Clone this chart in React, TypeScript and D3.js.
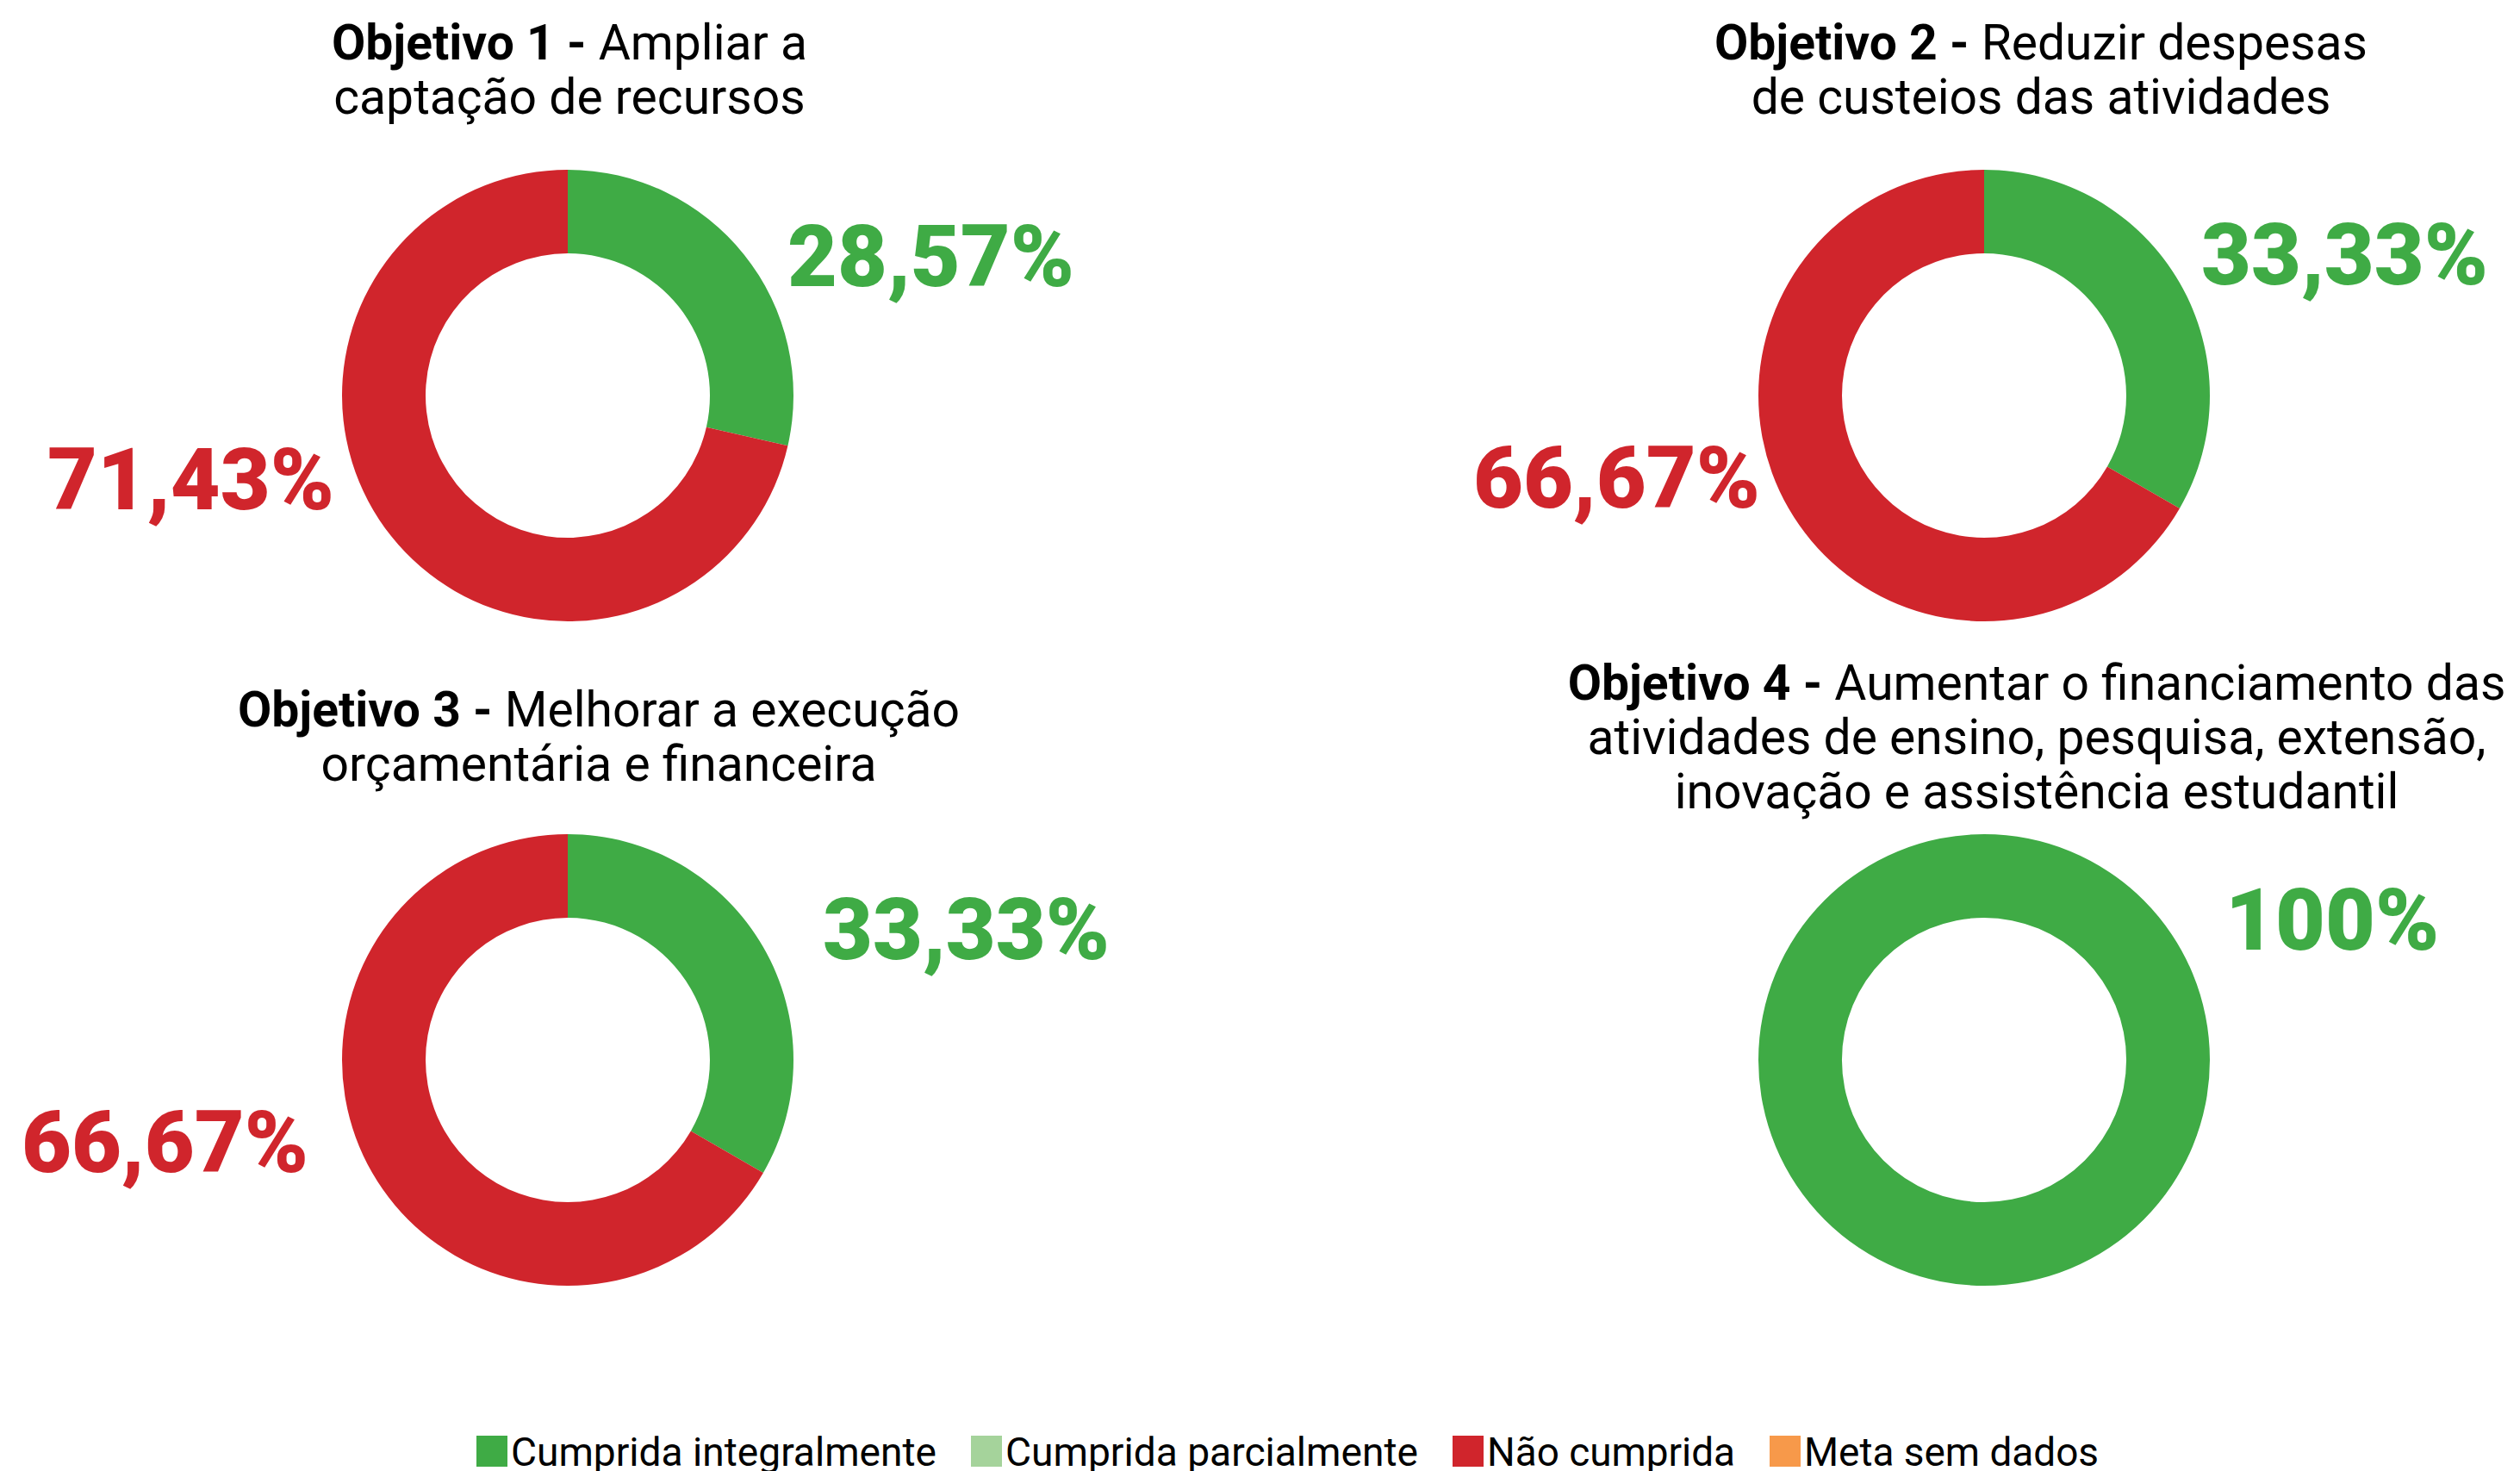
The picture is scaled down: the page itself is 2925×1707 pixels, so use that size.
import React, { useEffect } from "react";
import * as d3 from "d3";

// Painel de objetivos - percentual de metas por situação
const objetivos = ["Objetivo 1 - ", "Objetivo 2 - ", "Objetivo 3 - ", "Objetivo 4 - "];
const descricoes = [
  ["Ampliar a", "captação de recursos"],
  ["Reduzir despesas", "de custeios das atividades"],
  ["Melhorar a execução", "orçamentária e financeira"],
  ["Aumentar o financiamento das", "atividades de ensino, pesquisa, extensão,", "inovação e assistência estudantil"],
];
const situacoes = ["Cumprida integralmente", "Cumprida parcialmente", "Não cumprida", "Meta sem dados"];
const cores = ["#3fab45", "#a5d39b", "#d0252c", "#f7994a"];

const cumpridaIntegral = [28.57, 33.33, 33.33, 100];
const cumpridaParcial = [0, 0, 0, 0];
const naoCumprida = [71.43, 66.67, 66.67, 0];
const semDados = [0, 0, 0, 0];

// layout
const W = 2925, H = 1707;
const centers = [[659, 459], [2303, 459], [659, 1230], [2303, 1230]];
const titlePos = [[661, 69], [2369, 69], [695, 843], [2364, 812]];
// offsets das etiquetas [verde dx, dy, vermelho dx, dy]
const labelOff = [[255, -127, -271, 132], [252, -129, -260, 130], [296, -117, -301, 130], [280, -128, 0, 0]];
const outerR = 262, innerR = 165;

const fmt = (v: number) => (v === 100 ? "100%" : d3.format(".2f")(v).replace(".", ",") + "%");

export default function App() {
  useEffect(() => {
    document.body.style.margin = "0";
  }, []);

  const pie = d3.pie<number>().sort(null).value(d => d);
  const arc = d3.arc<d3.PieArcDatum<number>>().innerRadius(innerR).outerRadius(outerR);

  return (
    <svg width={W} height={H} style={{ display: "block", background: "#fff" }} fontFamily="Roboto, 'Noto Sans', sans-serif">
      {objetivos.map((obj, i) => {
        const vals = [cumpridaIntegral[i], cumpridaParcial[i], naoCumprida[i], semDados[i]];
        const arcs = pie(vals);
        const [cx, cy] = centers[i];
        const [tx, ty] = titlePos[i];
        const off = labelOff[i];
        return (
          <g key={obj}>
            <text x={tx} y={ty} textAnchor="middle" fontSize={57} fill="#000">
              {descricoes[i].map((line, j) => (
                <tspan key={j} x={tx} dy={j === 0 ? 0 : 63}>
                  {j === 0 && <tspan fontWeight={700}>{obj}</tspan>}
                  {line}
                </tspan>
              ))}
            </text>
            <g transform={`translate(${cx},${cy})`}>
              {arcs.map((a, k) =>
                a.value > 0 ? <path key={k} d={arc(a) || ""} fill={cores[k]} /> : null
              )}
              {cumpridaIntegral[i] > 0 && (
                <text x={off[0]} y={off[1]} fontSize={100} fontWeight={900} fill={cores[0]}>
                  {fmt(cumpridaIntegral[i])}
                </text>
              )}
              {naoCumprida[i] > 0 && (
                <text x={off[2]} y={off[3]} textAnchor="end" fontSize={100} fontWeight={900} fill={cores[2]}>
                  {fmt(naoCumprida[i])}
                </text>
              )}
            </g>
          </g>
        );
      })}
      <g transform="translate(553,1666)">
        {situacoes.map((s, k) => {
          const xs = [0, 574, 1133, 1501];
          const tw = [494, 479, 288, 342];
          return (
            <g key={s} transform={`translate(${xs[k]},0)`}>
              <rect width={36} height={36} fill={cores[k]} />
              <text x={40} y={35} fontSize={46} textLength={tw[k]} lengthAdjust="spacingAndGlyphs" fill="#000">{s}</text>
            </g>
          );
        })}
      </g>
    </svg>
  );
}
